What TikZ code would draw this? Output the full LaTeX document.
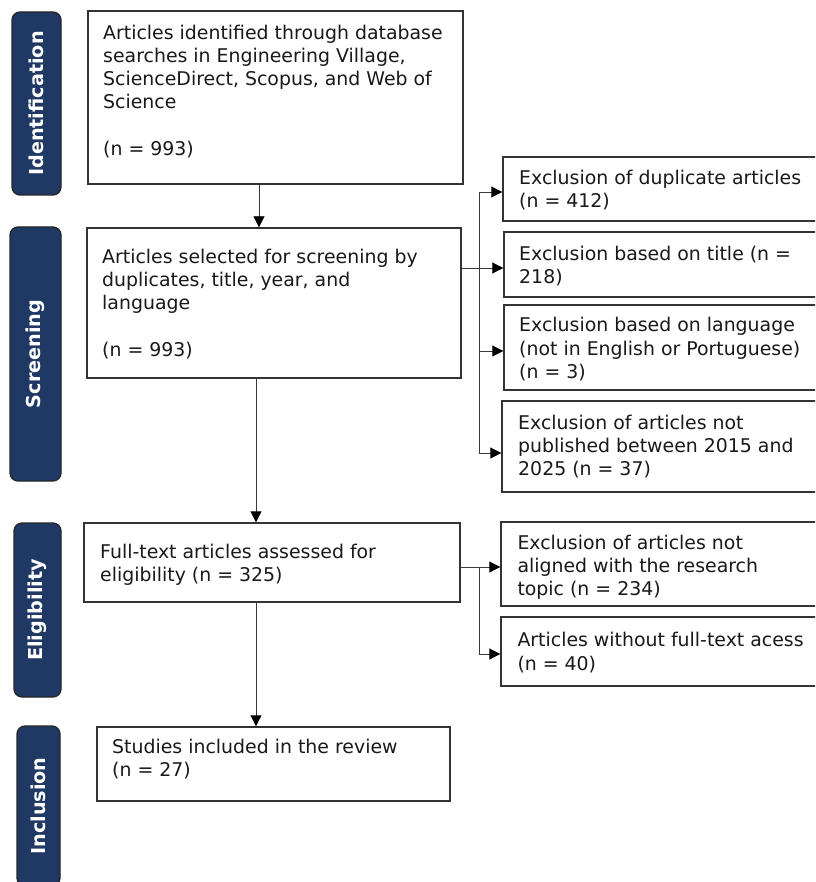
\documentclass[tikz,border=0pt]{standalone}
\usepackage{fontspec}
\setmainfont{DejaVu Sans}
\usetikzlibrary{arrows.meta}
\definecolor{navy}{HTML}{1F3864}
\definecolor{edge}{HTML}{333333}
\definecolor{wire}{HTML}{3A3A3A}
\begin{document}
\begin{tikzpicture}[x=1pt,y=-1pt,
  phase/.style={draw=black!85,line width=1.3pt,fill=navy,rounded corners=8pt,rotate=90,
    text=white,font=\fontsize{19.2}{23.2}\selectfont\bfseries,inner sep=0pt},
  box/.style={draw=edge,line width=1.4pt,fill=white,inner sep=0pt},
  txt/.style={anchor=north west,inner sep=0pt,align=left,font=\fontsize{18.9}{23.2}\selectfont,text=black!90},
  wireline/.style={draw=wire,line width=0.9pt},
  arr/.style={wireline,-{Triangle[length=11pt,width=11pt,color=black]}}
]
\useasboundingbox (0,0) rectangle (815,882);
\clip (0,0) rectangle (815,882);
% phase labels
\node[phase,minimum width=183pt,minimum height=49pt] (pid) at (36.5,103.5) {Identification};
\node[phase,minimum width=254pt,minimum height=51pt] (psc) at (35.5,354) {Screening};
\node[phase,minimum width=174pt,minimum height=47pt] (pel) at (37.5,610) {Eligibility};
\node[phase,minimum width=160pt,minimum height=43pt] (pin) at (38.5,806) {Inclusion};
% main boxes
\node[box,minimum width=375pt,minimum height=173pt] (b1) at (275.5,97.5) {};
\node[box,minimum width=374pt,minimum height=150pt] (b2) at (274,303) {};
\node[box,minimum width=376pt,minimum height=79pt] (b3) at (272,562.5) {};
\node[box,minimum width=353pt,minimum height=74pt] (b4) at (273.5,764) {};
% right boxes
\node[box,minimum width=327pt,minimum height=64pt] (r1) at (666.5,189) {};
\node[box,minimum width=326pt,minimum height=65pt] (r2) at (667,264.5) {};
\node[box,minimum width=326pt,minimum height=85pt] (r3) at (667,347.5) {};
\node[box,minimum width=328pt,minimum height=91pt] (r4) at (666,446.5) {};
\node[box,minimum width=329pt,minimum height=84pt] (r5) at (665.5,564) {};
\node[box,minimum width=329pt,minimum height=69pt] (r6) at (665.5,651.5) {};
% texts
\node[txt] (t1) at (103,22.8) {\strut Articles identified through database\\searches in Engineering Village,\\ScienceDirect, Scopus, and Web of\\Science\\[23.2pt](n = 993)};
\node[txt] (t2) at (102,247.1) {\strut Articles selected for screening by\\duplicates, title, year, and\\language\\[23.2pt](n = 993)};
\node[txt] (t3) at (100,542.1) {\strut Full-text articles assessed for\\eligibility (n = 325)};
\node[txt] (t4) at (112,737.1) {\strut Studies included in the review\\(n = 27)};
\node[txt] (tr1) at (519,168.1) {\strut Exclusion of duplicate articles\\(n = 412)};
\node[txt] (tr2) at (519,243.8) {\strut Exclusion based on title (n =\\218)};
\node[txt] (tr3) at (519,315.5) {\strut Exclusion based on language\\(not in English or Portuguese)\\(n = 3)};
\node[txt] (tr4) at (518,413.1) {\strut Exclusion of articles not\\published between 2015 and\\2025 (n = 37)};
\node[txt] (tr5) at (517.3,533.1) {\strut Exclusion of articles not\\aligned with the research\\topic (n = 234)};
\node[txt] (tr6) at (517.3,630.5) {\strut Articles without full-text acess\\(n = 40)};
% connector coordinates
\coordinate (c12) at (259,0);
\coordinate (c23) at (256,0);
\coordinate (sA) at (479,192);
\coordinate (sB) at (479,268);
\coordinate (sC) at (479,351);
\coordinate (sD) at (479,453);
\coordinate (eA) at (479,567);
\coordinate (eB) at (479,654);
% vertical flow
\draw[arr] (b1.south -| c12) -- (b2.north -| c12);
\draw[arr] (b2.south -| c23) -- (b3.north -| c23);
\draw[arr] (b3.south -| c23) -- (b4.north -| c23);
% screening exclusions
\draw[wireline] (b2.east |- sB) -- (sB);
\draw[wireline] (sA) -- (sD);
\draw[arr] (sA) -- (sA -| r1.west);
\draw[arr] (sB) -- (sB -| r2.west);
\draw[arr] (sC) -- (sC -| r3.west);
\draw[arr] (sD) -- (sD -| r4.west);
% eligibility exclusions
\draw[wireline] (b3.east |- eA) -- (eA);
\draw[wireline] (eA) -- (eB);
\draw[arr] (eA) -- (eA -| r5.west);
\draw[arr] (eB) -- (eB -| r6.west);
\end{tikzpicture}
\end{document}
